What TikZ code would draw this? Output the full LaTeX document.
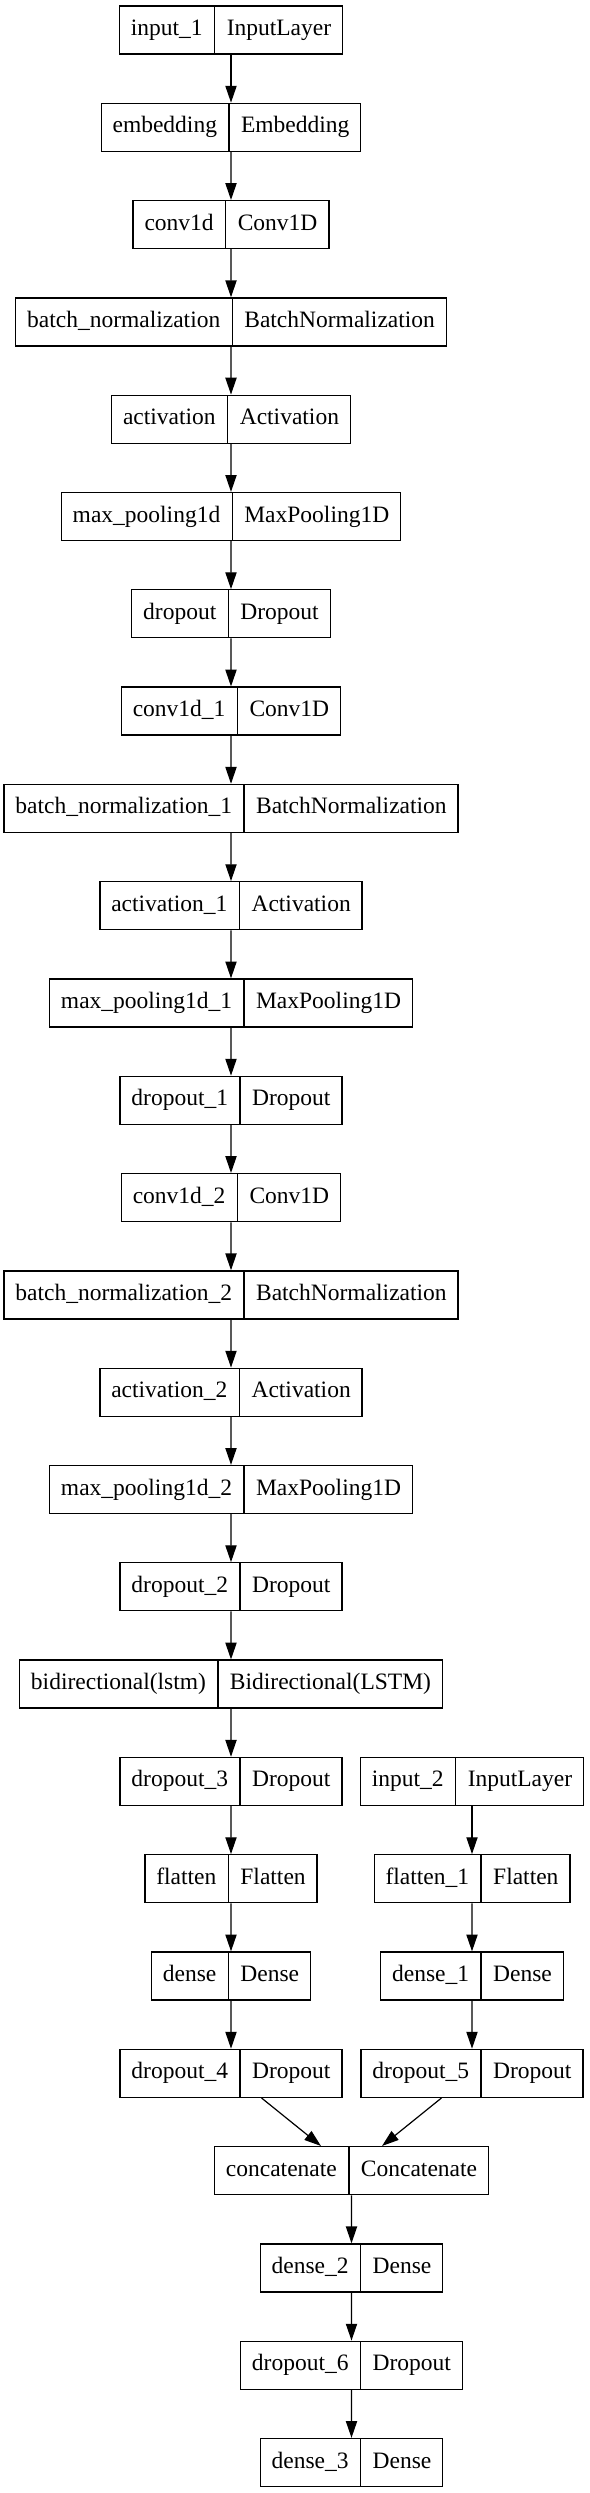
\documentclass[tikz,border=0pt]{standalone}
\usepackage{fontspec}
\setmainfont{Liberation Serif}
\usetikzlibrary{shapes.multipart,arrows.meta,calc}

\newcommand{\lyrstrut}{\rule[-3pt]{0pt}{11.5pt}}
\newcommand{\lyr}[2]{\lyrstrut#1\nodepart{two}\lyrstrut#2}
\tikzset{
    layer/.style={draw, line width=0.65pt,
        rectangle split, rectangle split horizontal, rectangle split parts=2,
        inner xsep=5.7pt, inner ysep=6.25pt,
        font=\fontsize{11.75pt}{14pt}\selectfont},
    flow/.style={draw, line width=0.6pt, -{Triangle[length=8.4pt,width=5.6pt]}}
}

\begin{document}
\begin{tikzpicture}[
            x=0.5pt, y=0.5pt,
            level distance=48.65pt,
            edge from parent/.style={flow}
        ]
        \useasboundingbox (0,0) rectangle (589,-2493);
        % main branch
        \node[layer] (input1) at (231,-30) {\lyr{input\_1}{InputLayer}}
        child { node[layer] (embedding) {\lyr{embedding}{Embedding}}
        child { node[layer] (conv1d) {\lyr{conv1d}{Conv1D}}
        child { node[layer] (bnorm) {\lyr{batch\_normalization}{BatchNormalization}}
        child { node[layer] (act) {\lyr{activation}{Activation}}
        child { node[layer] (maxpool) {\lyr{max\_pooling1d}{MaxPooling1D}}
        child { node[layer] (drop) {\lyr{dropout}{Dropout}}
        child { node[layer] (conv1d1) {\lyr{conv1d\_1}{Conv1D}}
        child { node[layer] (bnorm1) {\lyr{batch\_normalization\_1}{BatchNormalization}}
        child { node[layer] (act1) {\lyr{activation\_1}{Activation}}
        child { node[layer] (maxpool1) {\lyr{max\_pooling1d\_1}{MaxPooling1D}}
        child { node[layer] (drop1) {\lyr{dropout\_1}{Dropout}}
        child { node[layer] (conv1d2) {\lyr{conv1d\_2}{Conv1D}}
        child { node[layer] (bnorm2) {\lyr{batch\_normalization\_2}{BatchNormalization}}
        child { node[layer] (act2) {\lyr{activation\_2}{Activation}}
        child { node[layer] (maxpool2) {\lyr{max\_pooling1d\_2}{MaxPooling1D}}
        child { node[layer] (drop2) {\lyr{dropout\_2}{Dropout}}
        child { node[layer] (bilstm) {\lyr{bidirectional(lstm)}{Bidirectional(LSTM)}}
        child { node[layer] (drop3) {\lyr{dropout\_3}{Dropout}}
        child { node[layer] (flatten) {\lyr{flatten}{Flatten}}
        child { node[layer] (dense) {\lyr{dense}{Dense}}
        child { node[layer] (drop4) {\lyr{dropout\_4}{Dropout}}
        }}}}}}}}}}}}}}}}}}}}};

        % second input
        \node[layer] (input2) at (472,-1781.4) {\lyr{input\_2}{InputLayer}}
        child { node[layer] (flatten1) {\lyr{flatten\_1}{Flatten}}
        child { node[layer] (dense1) {\lyr{dense\_1}{Dense}}
        child { node[layer] (drop5) {\lyr{dropout\_5}{Dropout}}
        }}};

        % merge and head
        \node[layer] (concat) at ($(drop4)!.5!(drop5)+(0,-97.3)$) {\lyr{concatenate}{Concatenate}}
        child { node[layer] (dense2) {\lyr{dense\_2}{Dense}}
        child { node[layer] (drop6) {\lyr{dropout\_6}{Dropout}}
        child { node[layer] (dense3) {\lyr{dense\_3}{Dense}}
        }}};

        \draw[flow] (drop4) -- (concat);
        \draw[flow] (drop5) -- (concat);
    \end{tikzpicture}
\end{document}
